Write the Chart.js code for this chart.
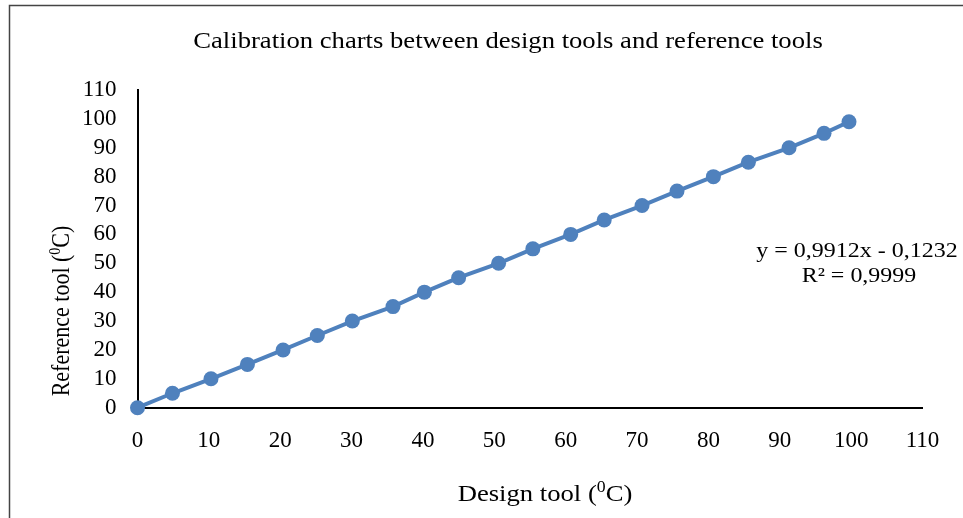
<!DOCTYPE html>
<html>
<head>
<meta charset="utf-8">
<script src="https://cdn.jsdelivr.net/npm/chart.js@4"></script>
<style>
    html, body { margin: 0; padding: 0; background: #fff; }
    #wrap { width: 963px; height: 518px; }
</style>
</head>
<body>
<div id="wrap"><canvas id="Calibration_Chart" width="963" height="518"></canvas></div>
<script>
// số liệu
var designTool = [0, 4.9, 10.3, 15.4, 20.4, 25.2, 30.1, 35.8, 40.2, 45.0, 50.6, 55.4, 60.7, 65.4, 70.7, 75.6, 80.7, 85.6, 91.3, 96.2, 99.7];
var referenceTool = [0, 5, 10, 15, 20, 25, 30, 35, 40, 45, 50, 55, 60, 65, 70, 75, 80, 85, 90, 95, 99];
var axisMin = 0;
var axisMax = 110;
var axisStep = 10;

var chartTitle = 'Calibration charts between design tools and reference tools';
var xTitle = ['Design tool (', '0', 'C)'];
var yTitle = ['Reference tool (', '0', 'C)'];
var trendLines = ['y = 0,9912x - 0,1232', 'R\u00B2 = 0,9999'];

var FONT = '"Liberation Serif", "Times New Roman", serif';
var BLUE = '#4F81BD';

(function () {
    // vẽ chữ có số mũ nhỏ (0C), căn giữa tại gốc toạ độ
    function drawSupText(ctx, parts, size) {
        var small = Math.round(size * 0.65);
        ctx.font = size + 'px ' + FONT;
        var w0 = ctx.measureText(parts[0]).width;
        var w2 = ctx.measureText(parts[2]).width;
        ctx.font = small + 'px ' + FONT;
        var w1 = ctx.measureText(parts[1]).width;
        var x = -(w0 + w1 + w2) / 2;
        ctx.textAlign = 'left';
        ctx.textBaseline = 'middle';
        ctx.font = size + 'px ' + FONT;
        ctx.fillText(parts[0], x, 0);
        ctx.font = small + 'px ' + FONT;
        ctx.fillText(parts[1], x + w0, -size * 0.3);
        ctx.font = size + 'px ' + FONT;
        ctx.fillText(parts[2], x + w0 + w1, 0);
    }

    // chữ hơi giãn ngang giống ảnh gốc
    function drawWide(ctx, text, x, y, size, stretch) {
        ctx.save();
        ctx.translate(x, y);
        ctx.scale(stretch, 1);
        ctx.font = size + 'px ' + FONT;
        ctx.textAlign = 'center';
        ctx.textBaseline = 'middle';
        ctx.fillText(text, 0, 0);
        ctx.restore();
    }

    var textPlugin = {
        id: 'textPlugin',
        beforeDraw: function (chart) {
            var ctx = chart.ctx;
            ctx.save();
            ctx.strokeStyle = '#444';
            ctx.lineWidth = 1.5;
            ctx.strokeRect(9.5, 5.5, 1000, 600); // khung ngoài
            ctx.restore();
        },
        afterDraw: function (chart) {
            var ctx = chart.ctx;
            ctx.save();
            ctx.fillStyle = '#000';
            // tiêu đề biểu đồ
            drawWide(ctx, chartTitle, 508, 42, 24, 1.11);
            // tiêu đề trục x
            ctx.save();
            ctx.translate(545, 495);
            ctx.scale(1.11, 1);
            drawSupText(ctx, xTitle, 24);
            ctx.restore();
            // tiêu đề trục y (xoay dọc, giãn theo chiều ngang màn hình)
            ctx.save();
            ctx.translate(63, 311);
            ctx.rotate(-Math.PI / 2);
            ctx.scale(1, 1.12);
            drawSupText(ctx, yTitle, 22);
            ctx.restore();
            // phương trình hồi quy
            drawWide(ctx, trendLines[0], 857, 251, 22, 1.09);
            drawWide(ctx, trendLines[1], 859, 276, 22, 1.09);
            ctx.restore();
        }
    };

    var points = designTool.map(function (x, i) {
        return { x: x, y: referenceTool[i] };
    });

    var ctx = document.getElementById('Calibration_Chart').getContext('2d');
    new Chart(ctx, {
        type: 'scatter',
        data: {
            datasets: [{
                data: points,
                showLine: true,
                clip: false,
                borderColor: BLUE,
                backgroundColor: BLUE,
                borderWidth: 4,
                pointRadius: 7.5,
                pointHoverRadius: 7.5,
                pointBorderWidth: 0
            }]
        },
        plugins: [textPlugin],
        options: {
            responsive: false,
            animation: false,
            layout: { padding: { left: 0, right: 40.5, top: 90, bottom: 0 } },
            plugins: {
                legend: { display: false },
                tooltip: { enabled: false },
                title: { display: false }
            },
            scales: {
                x: {
                    type: 'linear',
                    min: axisMin,
                    max: axisMax,
                    afterFit: function (scale) { scale.height = 110.3; },
                    grid: { display: false, drawTicks: false, tickLength: 0 },
                    border: { display: true, color: '#000', width: 2 },
                    ticks: {
                        stepSize: axisStep,
                        autoSkip: false,
                        padding: 19,
                        color: '#000',
                        maxRotation: 0,
                        font: { family: FONT, size: 23 }
                    }
                },
                y: {
                    type: 'linear',
                    min: axisMin,
                    max: axisMax,
                    afterFit: function (scale) { scale.width = 137.5; },
                    grid: { display: false, drawTicks: false, tickLength: 0 },
                    border: { display: true, color: '#000', width: 2 },
                    ticks: {
                        stepSize: axisStep,
                        autoSkip: false,
                        padding: 21,
                        color: '#000',
                        font: { family: FONT, size: 23, lineHeight: 1 }
                    }
                }
            }
        }
    });
})();
</script>
</body>
</html>
